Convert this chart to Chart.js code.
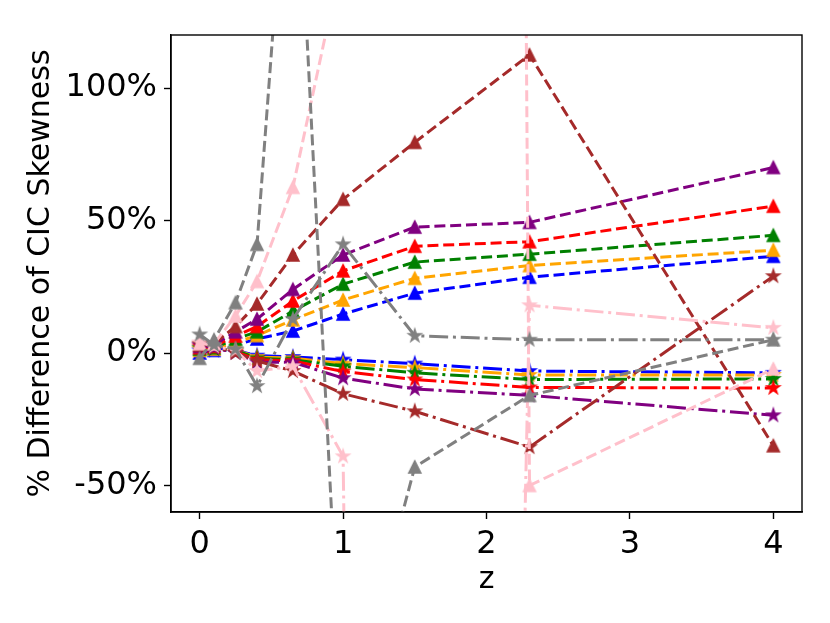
<!DOCTYPE html>
<html>
<head>
<meta charset="utf-8">
<script src="https://cdn.jsdelivr.net/npm/chart.js@4.4.0/dist/chart.umd.min.js"></script>
<style>
  html, body { margin: 0; padding: 0; background: #fff; }
  canvas { display: block; }
</style>
</head>
<body>
<canvas id="skewChart" width="830" height="623"></canvas>
<script>
const zValues = [0, 0.1, 0.25, 0.4, 0.65, 1, 1.5, 2.3, 4];
const xTicks = [0, 1, 2, 3, 4];
const yTicks = [-50, 0, 50, 100];

// dashed lines, triangle markers
const blueDashed   = [0, 1, 3, 5.3, 8.3, 14.7, 22.6, 28.6, 36.5];
const orangeDashed = [1, 1.5, 4, 6.6, 12.5, 20, 28.2, 33, 38.8];
const greenDashed  = [1.5, 2, 5.3, 8, 15.8, 26, 34.3, 37.3, 44.4];
const redDashed    = [2, 2.5, 6.4, 10, 19.6, 31, 40.3, 42, 55.4];
const purpleDashed = [2.5, 3, 8, 12.8, 24, 37, 47.5, 49.3, 70];
const brownDashed  = [3, 3.5, 10, 18.5, 37, 58, 79.5, 112.5, -35];
const pinkDashed   = [3.5, 3.5, 14, 27, 62.5, 151, 6000, -50, -6];
const grayDashed   = [-2, 5, 19, 41, 222, -144, -43, -16, 5];

// dash-dot lines, star markers
const blueDashDot   = [1, 1, 1, -1, -1.5, -2.5, -4, -6.8, -7.5];
const orangeDashDot = [1.5, 1.5, 1, -1.5, -2, -4, -5.5, -8.3, -8.3];
const greenDashDot  = [2, 1.5, 1, -2, -2.5, -5, -7.5, -10, -9.8];
const redDashDot    = [2.5, 2, 0.5, -2.5, -3, -7, -10, -13, -13.2];
const purpleDashDot = [3, 2, 0, -3.5, -3.5, -9.5, -13.6, -16, -23.5];
const brownDashDot  = [3.5, 2.5, 0, -3, -6.8, -15.4, -22, -35.5, 29];
const pinkDashDot   = [4, 2.5, 1, -6.8, -5, -39, -2000, 18, 9.5];
const grayDashDot   = [7, 3, 1.5, -12.5, 12.8, 41, 6.5, 5, 5];

const series = [
  ["blue", blueDashed, blueDashDot],
  ["orange", orangeDashed, orangeDashDot],
  ["green", greenDashed, greenDashDot],
  ["red", redDashed, redDashDot],
  ["purple", purpleDashed, purpleDashDot],
  ["brown", brownDashed, brownDashDot],
  ["pink", pinkDashed, pinkDashDot],
  ["gray", grayDashed, grayDashDot]
];

const LW = 3;
const DASHED = [11, 4.8];
const DASHDOT = [19, 4.8, 3, 4.8];

function makeMarker(shape, color) {
  const size = 22;
  const c = document.createElement("canvas");
  c.width = size;
  c.height = size;
  const g = c.getContext("2d");
  const r = shape === "triangle" ? 5.8 : 6;
  const cx = size / 2, cy = size / 2;
  g.beginPath();
  if (shape === "triangle") {
    g.moveTo(cx, cy - r);
    g.lineTo(cx - r, cy + r);
    g.lineTo(cx + r, cy + r);
  } else {
    for (let i = 0; i < 10; i++) {
      const rr = i % 2 === 0 ? r : r * 0.381966;
      const a = -Math.PI / 2 + i * Math.PI / 5;
      g.lineTo(cx + rr * Math.cos(a), cy + rr * Math.sin(a));
    }
  }
  g.closePath();
  g.fillStyle = color;
  g.fill();
  g.lineWidth = 1.8;
  g.strokeStyle = color;
  g.lineJoin = "miter";
  g.stroke();
  return c;
}

function toPoints(values) {
  return zValues.map((z, i) => ({ x: z, y: values[i] }));
}

const datasets = [];
series.forEach(([color, dashed, dashDot]) => {
  datasets.push({
    data: toPoints(dashed),
    borderColor: color,
    borderWidth: LW,
    borderDash: DASHED,
    pointStyle: makeMarker("triangle", color),
    pointRadius: 5
  });
  datasets.push({
    data: toPoints(dashDot),
    borderColor: color,
    borderWidth: LW,
    borderDash: DASHDOT,
    pointStyle: makeMarker("star", color),
    pointRadius: 5
  });
});
// first plotted sits at the bottom, like matplotlib
datasets.forEach((d, i) => {
  d.order = datasets.length - i;
  d.showLine = true;
  d.tension = 0;
  d.clip = 0;
  d.backgroundColor = d.borderColor;
});

const frame = {
  id: "frame",
  afterDraw(chart) {
    const { ctx, chartArea: a } = chart;
    ctx.save();
    ctx.strokeStyle = "#000";
    ctx.lineWidth = 1.4;
    ctx.strokeRect(a.left, a.top, a.right - a.left, a.bottom - a.top);
    ctx.restore();
  }
};

const font = { family: "DejaVu Sans", size: 32 };
const titleFont = { family: "DejaVu Sans", size: 30 };

new Chart(document.getElementById("skewChart"), {
  type: "scatter",
  data: { datasets },
  plugins: [frame],
  options: {
    responsive: false,
    animation: false,
    events: [],
    layout: { padding: { top: 35, right: 28, left: 0, bottom: 0 } },
    plugins: {
      legend: { display: false },
      tooltip: { enabled: false }
    },
    scales: {
      x: {
        type: "linear",
        min: -0.2,
        max: 4.2,
        afterBuildTicks: s => { s.ticks = xTicks.map(v => ({ value: v })); },
        afterFit: s => { s.height = 111; },
        grid: { display: true, drawOnChartArea: false, drawTicks: true, tickLength: 7, tickWidth: 1.4, tickColor: "#000" },
        border: { display: true, color: "#000", width: 1.4 },
        ticks: { color: "#000", font, padding: 6, maxRotation: 0, callback: v => String(v) },
        title: { display: true, text: "z", color: "#000", font: titleFont, padding: { top: 0, bottom: 25 } }
      },
      y: {
        type: "linear",
        min: -60,
        max: 120,
        afterBuildTicks: s => { s.ticks = yTicks.map(v => ({ value: v })); },
        afterFit: s => { s.width = 171; },
        grid: { display: true, drawOnChartArea: false, drawTicks: true, tickLength: 7, tickWidth: 1.4, tickColor: "#000" },
        border: { display: true, color: "#000", width: 1.4 },
        ticks: { color: "#000", font, padding: 7, callback: v => v + "%" },
        title: { display: true, text: "% Difference of CIC Skewness", color: "#000", font: titleFont, padding: { top: 23, bottom: 0 } }
      }
    }
  }
});
</script>
</body>
</html>
